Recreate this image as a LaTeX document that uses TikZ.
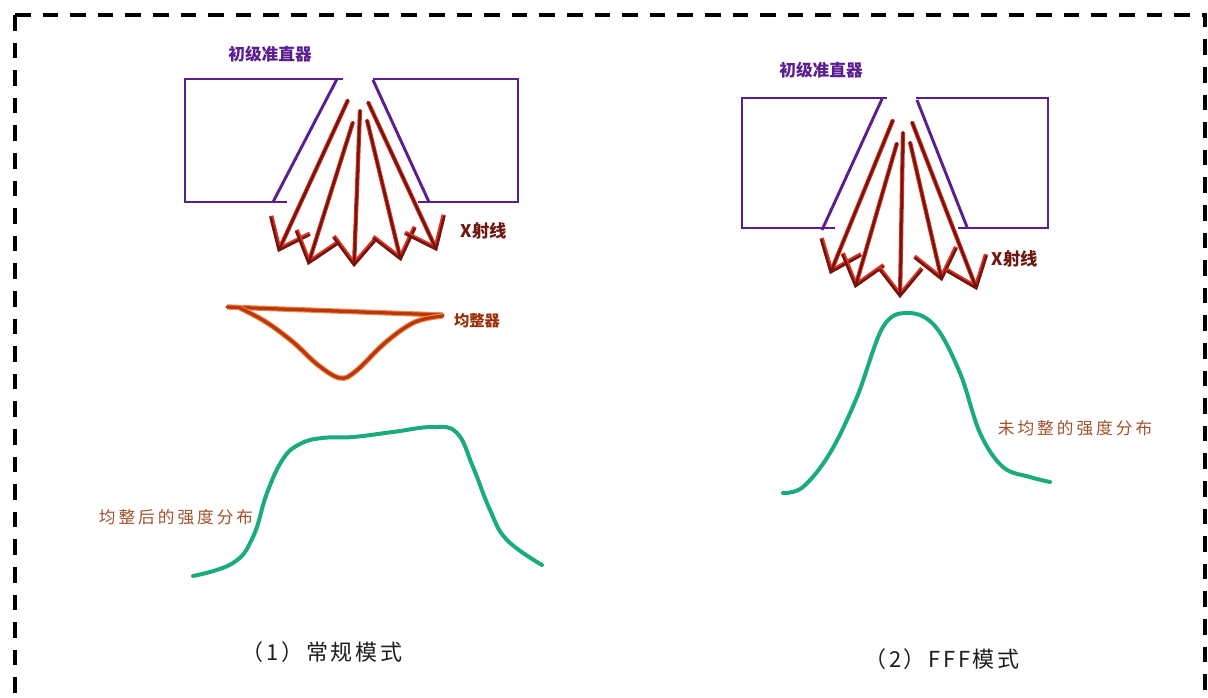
\documentclass[tikz,border=0pt]{standalone}
\usepackage{fontspec}
\newfontfamily\cjk{Noto Sans CJK SC}
\newfontfamily\cjknote[LetterSpace=18]{Noto Sans CJK SC}
\newfontfamily\cjkcap[LetterSpace=12]{Noto Sans CJK SC}
\usetikzlibrary{arrows.meta}

\definecolor{collim}{HTML}{5B1E91}
\definecolor{raycore}{HTML}{6E1610}
\definecolor{rayhalo}{HTML}{E0301E}
\definecolor{filtcore}{HTML}{B8380C}
\definecolor{filthalo}{HTML}{F2874A}
\definecolor{profile}{HTML}{1AAB7E}
\definecolor{note}{HTML}{A0522D}
\definecolor{caption}{HTML}{1E1E1E}

\tikzset{
  frame/.style={line width=3pt, dash pattern=on 11.7pt off 9pt},
  collimator/.style={draw=collim, line width=2.2pt},
  ray/.style={draw=raycore, line width=1.8pt, line cap=round, line join=round,
    -{Straight Barb[length=20pt,width=32pt]},
    preaction={draw=rayhalo, line width=3.2pt,
      -{Straight Barb[length=20pt,width=32pt]}}},
  filter/.style={draw=filtcore, line width=2.4pt, line cap=round, line join=round,
    preaction={draw=filthalo, line width=4pt}},
  profile/.style={draw=profile, line width=3pt, line cap=round},
  collimlabel/.style={font=\cjk\bfseries\fontsize{12.5}{14}\selectfont, text=collim, inner sep=0pt},
  raylabel/.style={font=\cjk\bfseries\fontsize{13}{14}\selectfont, text=raycore, inner sep=0pt},
  filterlabel/.style={font=\cjk\bfseries\fontsize{11.5}{14}\selectfont, text=filtcore!85!black, inner sep=0pt},
  notelabel/.style={font=\cjknote\fontsize{12.5}{14}\selectfont, text=note, inner sep=0pt},
  captionlabel/.style={font=\cjkcap\fontsize{16.5}{18}\selectfont, text=caption, inner sep=0pt}
}

\begin{document}
\begin{tikzpicture}[x=0.75pt,y=-0.75pt]
\useasboundingbox (0,0) rectangle (1208,697);
\fill[white] (0,0) rectangle (1208,697);

% dashed frame (its bottom edge lies below the page)
\draw[frame] (15,15) -- (15,760);
\draw[frame] (15,15) -- (1205,15) -- (1205,760);

% ---------- (1) conventional mode ----------
% primary collimator
\draw[collimator] (343,79) -- (185,79) -- (185,202) -- (287,202);
\draw[collimator] (337,79) -- (273,202);
\draw[collimator] (373,79) -- (518,79) -- (518,202) -- (418,202);
\draw[collimator] (373,80) -- (429,202);
\node[collimlabel] (colL) at (270,54) {初级准直器};

% X-ray beams
\draw[ray] (348,100) -- (278,252);
\draw[ray] (353,122) -- (308,265);
\draw[ray] (360,110) -- (354,267);
\draw[ray] (367,120) -- (401,261);
\draw[ray] (368,102) -- (437,251);
\node[raylabel] (xrayL) at (484,231) {X射线};

% flattening filter
\draw[filter] (227,307) -- (443,315);
\draw[filter] plot[smooth, tension=0.6] coordinates
  {(240,308) (266,322) (293,342) (318,365) (340,378) (356,371) (386,342) (415,322) (443,316)};
\node[filterlabel] (filterL) at (477,321) {均整器};

% flattened profile
\draw[profile] plot[smooth, tension=0.7] coordinates
  {(193,576) (233,563) (253,537) (267,493) (283,459) (300,444) (322,438) (353,437)
   (393,432) (433,427) (457,433) (473,467) (490,510) (507,540) (542,565)};
\node[notelabel] (flatL) at (176,517) {均整后的强度分布};

\node[captionlabel] (capL) at (322,652) {（1）常规模式};

% ---------- (2) FFF mode ----------
\draw[collimator] (887,98) -- (742,98) -- (742,228) -- (835,228);
\draw[collimator] (882,99) -- (822,230);
\draw[collimator] (916,98) -- (1048,98) -- (1048,228) -- (958,228);
\draw[collimator] (917,100) -- (967,227);
\node[collimlabel] (colR) at (821,70) {初级准直器};

\draw[ray] (893,120) -- (830,274);
\draw[ray] (897,143) -- (855,288);
\draw[ray] (903,132) -- (900,298);
\draw[ray] (910,142) -- (942,281);
\draw[ray] (912,122) -- (977,290);
\node[raylabel] (xrayR) at (1015,259) {X射线};

% unflattened profile
\draw[profile] plot[smooth, tension=0.6] coordinates
  {(783,493) (803,487) (830,453) (857,397) (883,327) (908,313) (935,326)
   (960,373) (980,433) (1003,467) (1030,477) (1050,482)};
\node[notelabel] (rawR) at (1075,428) {未均整的强度分布};

\node[captionlabel] (capR) at (942,659) {（2）FFF模式};
\end{tikzpicture}
\end{document}
